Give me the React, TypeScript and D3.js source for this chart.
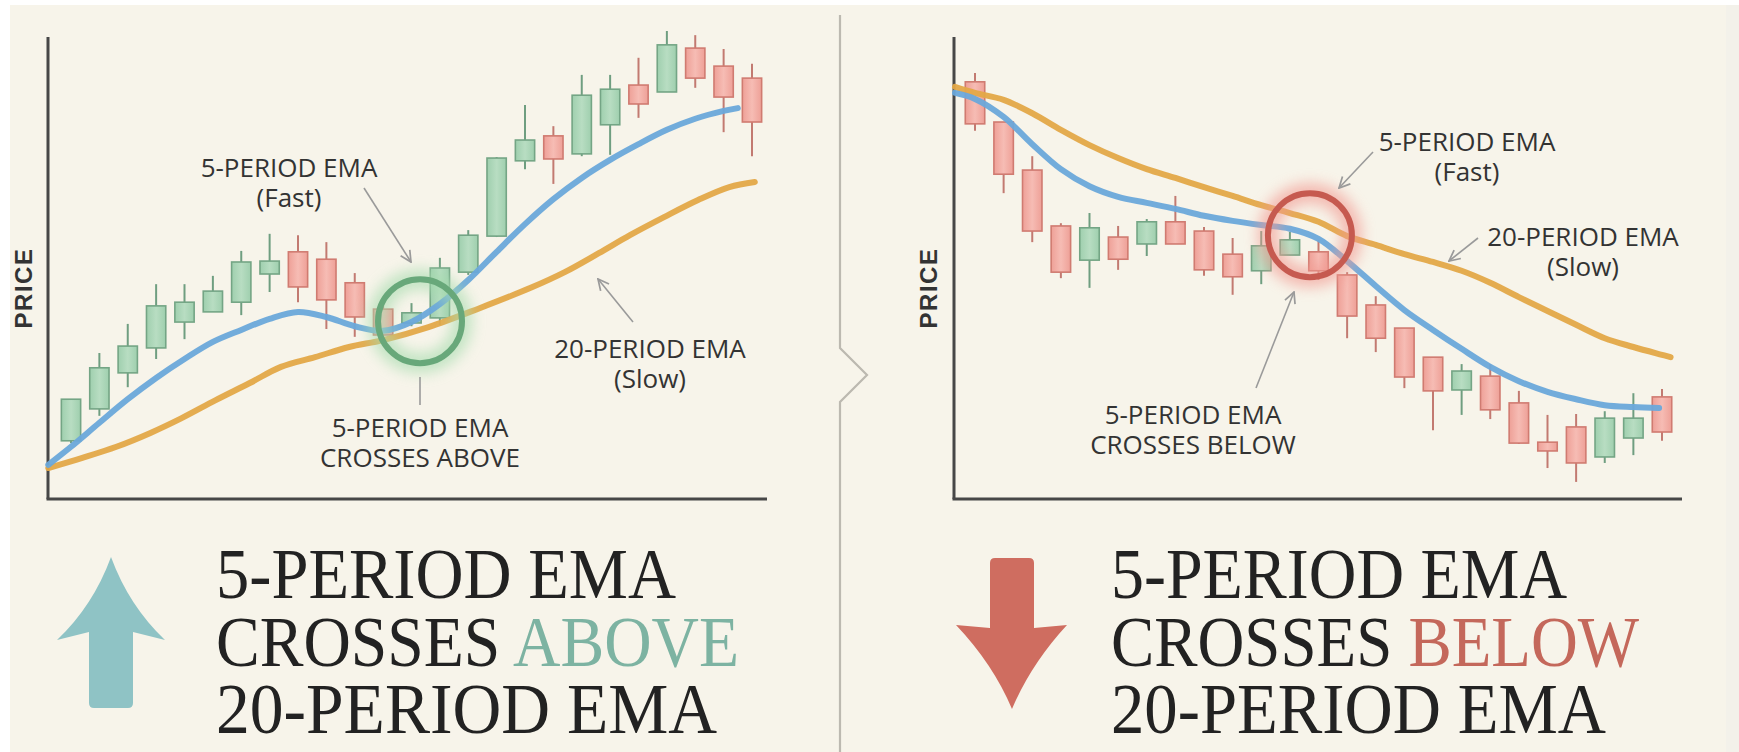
import * as d3 from "d3";
import { useEffect, useRef } from "react";

const W = 1739;
const H = 752;

// candles: [open, high, low, close] in price units (0..100 on the axis)
const upCandles: number[][] = [
  [12.6, 21.6, 12.1, 21.6],
  [19.5, 31.6, 18.0, 28.4],
  [27.3, 37.9, 24.2, 33.1],
  [32.7, 46.5, 30.3, 41.8],
  [38.3, 46.5, 34.6, 42.6],
  [40.5, 48.3, 40.5, 45.0],
  [42.6, 53.7, 39.8, 51.3],
  [48.7, 57.4, 44.8, 51.5],
  [53.5, 57.1, 42.6, 45.9],
  [51.9, 55.6, 36.8, 43.1],
  [46.8, 48.9, 35.1, 39.4],
  [41.1, 42.0, 34.8, 35.5],
  [38.1, 42.4, 37.4, 40.3],
  [39.2, 52.2, 37.7, 50.0],
  [49.1, 58.2, 48.5, 57.1],
  [56.9, 74.0, 56.7, 73.8],
  [73.2, 85.3, 71.4, 77.7],
  [78.6, 80.7, 68.2, 73.6],
  [74.7, 91.8, 74.2, 87.4],
  [81.0, 91.8, 74.5, 88.7],
  [89.6, 95.5, 82.5, 85.5],
  [88.1, 101.3, 88.1, 98.3],
  [97.6, 100.4, 89.0, 91.1],
  [93.7, 97.4, 79.4, 87.0],
  [91.1, 94.2, 74.2, 81.6],
];

const downCandles: number[][] = [
  [90.3, 92.2, 79.7, 81.2],
  [81.6, 81.6, 66.2, 70.3],
  [71.2, 74.2, 55.6, 58.0],
  [59.1, 59.7, 47.8, 49.1],
  [51.7, 61.9, 45.7, 58.7],
  [56.7, 59.1, 49.6, 51.9],
  [55.2, 60.6, 52.6, 60.0],
  [60.0, 65.6, 55.2, 55.2],
  [58.0, 58.9, 48.3, 49.6],
  [53.0, 56.5, 44.2, 48.1],
  [49.4, 58.0, 46.5, 54.8],
  [52.8, 57.8, 52.8, 56.1],
  [53.5, 56.1, 47.4, 49.4],
  [48.5, 49.1, 34.8, 39.6],
  [42.0, 43.9, 31.8, 34.8],
  [37.0, 37.0, 24.0, 26.4],
  [30.7, 30.7, 14.9, 23.4],
  [23.6, 29.2, 18.2, 27.7],
  [26.6, 29.2, 17.3, 19.3],
  [20.8, 23.4, 11.9, 12.1],
  [12.3, 18.2, 6.7, 10.4],
  [15.6, 18.4, 3.7, 7.8],
  [9.1, 19.0, 7.8, 17.5],
  [13.2, 22.9, 9.5, 17.5],
  [22.1, 23.8, 12.6, 14.5],
];

// EMA lines: [candle index, price]
const upFast: number[][] = [
  [-0.8, 7.4], [0, 11.3], [1, 16.5], [2, 21.6], [3, 26.2], [4, 30.3], [5, 34.0],
  [6, 36.6], [7, 39.0], [8, 40.5], [9, 39.4], [10, 37.4], [11, 36.4], [12, 38.3],
  [13, 42.2], [14, 47.4], [15, 53.5], [16, 59.5], [17, 64.9], [18, 69.5], [19, 73.4],
  [20, 76.8], [21, 79.9], [22, 82.3], [23, 84.0], [23.5, 84.6],
];
const upSlow: number[][] = [
  [-0.8, 6.7], [0.4, 8.9], [1.6, 11.3], [2.8, 14.3], [3.9, 17.5], [5.1, 21.4],
  [6.3, 25.1], [7.4, 28.6], [8.6, 30.7], [9.8, 32.9], [11, 34.4], [12.6, 37.2],
  [14.4, 41.3], [16.2, 45.7], [17.4, 49.1], [18.6, 53.2], [19.7, 57.1], [20.9, 61.0],
  [22.1, 64.7], [23.2, 67.5], [24.1, 68.6],
];
const downFast: number[][] = [
  [-0.7, 87.9], [0, 86.6], [1, 82.7], [2, 76.8], [3, 71.4], [4, 67.7], [5, 65.4],
  [6, 64.1], [7, 62.8], [8, 61.3], [9, 60.2], [10, 59.3], [11, 58.5], [12, 56.3],
  [13, 51.5], [14, 46.1], [15, 40.9], [16, 36.6], [17, 32.5], [18, 28.6], [19, 25.5],
  [20, 23.2], [21, 21.6], [22, 20.3], [23, 19.9], [23.9, 19.7],
];
const downSlow: number[][] = [
  [-0.7, 89.2], [0, 87.9], [1, 86.4], [2, 83.5], [3, 79.9], [4, 76.6], [5, 73.8],
  [6, 71.4], [7, 69.5], [8, 67.5], [9, 65.6], [10, 63.6], [11, 61.9], [12, 60.0],
  [13, 56.9], [14, 55.0], [15, 53.0], [16, 51.3], [17, 49.4], [18, 46.8], [19, 43.7],
  [20, 40.7], [21, 37.7], [22, 34.8], [23, 32.9], [24, 31.2], [24.3, 30.7],
];

// crossover markers [candle index, price]
const upCross = [12.3, 38.5];
const downCross = [11.7, 57.1];

const panels = [
  {
    candles: upCandles, fast: upFast, slow: upSlow, cross: upCross,
    axisX: 48, axisEnd: 767, first: 71, last: 752, priceX: 23.5,
    ring: "#68a87a", glow: "#a6dcae",
    labels: [
      { x: 289, y: 177, lines: ["5-PERIOD EMA", "(Fast)"] },
      { x: 650, y: 358, lines: ["20-PERIOD EMA", "(Slow)"] },
      { x: 420, y: 437, lines: ["5-PERIOD EMA", "CROSSES ABOVE"] },
    ],
    arrows: [
      [364, 188, 411, 262],
      [633, 322, 598, 279],
    ],
    ticks: [[420, 377, 420, 405]],
  },
  {
    candles: downCandles, fast: downFast, slow: downSlow, cross: downCross,
    axisX: 954, axisEnd: 1682, first: 975, last: 1662, priceX: 928,
    ring: "#c65a50", glow: "#f29a92",
    labels: [
      { x: 1467, y: 151, lines: ["5-PERIOD EMA", "(Fast)"] },
      { x: 1583, y: 246, lines: ["20-PERIOD EMA", "(Slow)"] },
      { x: 1193, y: 424, lines: ["5-PERIOD EMA", "CROSSES BELOW"] },
    ],
    arrows: [
      [1373, 152, 1339, 188],
      [1478, 238, 1449, 261],
      [1256, 388, 1294, 292],
    ],
    ticks: [],
  },
];

const headlines = [
  { x: 216, color: "#7db3a2", word: "ABOVE", widths: [460, 523, 501] },
  { x: 1111, color: "#c4685b", word: "BELOW", widths: [456, 528, 495] },
];
const baselines = [598, 666, 733];

export default function App() {
  const ref = useRef<SVGSVGElement>(null);

  useEffect(() => {
    if (!ref.current) return;
    const svg = d3.select(ref.current);
    svg.selectAll("*").remove();
    svg.attr("viewBox", `0 0 ${W} ${H}`);

    const defs = svg.append("defs");
    defs.append("filter").attr("id", "glow").attr("x", "-50%").attr("y", "-50%").attr("width", "200%").attr("height", "200%")
      .append("feGaussianBlur").attr("stdDeviation", 7);
    defs.append("marker").attr("id", "head").attr("viewBox", "0 0 12 12").attr("refX", 11).attr("refY", 6)
      .attr("markerWidth", 13).attr("markerHeight", 13).attr("markerUnits", "userSpaceOnUse").attr("orient", "auto")
      .append("path").attr("d", "M1,1 L11,6 L1,11").attr("fill", "none").attr("stroke", "#9a9a9a").attr("stroke-width", 1.6);
    const grad = (id: string, edge: string, mid: string) => {
      const g = defs.append("linearGradient").attr("id", id);
      g.append("stop").attr("offset", "0%").attr("stop-color", edge);
      g.append("stop").attr("offset", "50%").attr("stop-color", mid);
      g.append("stop").attr("offset", "100%").attr("stop-color", edge);
    };
    grad("gUp", "#9fcfae", "#b8ddc2");
    grad("gDn", "#eea097", "#f6bcb4");

    // paper
    svg.append("rect").attr("width", W).attr("height", H).attr("fill", "#ffffff");
    svg.append("rect").attr("x", 10).attr("y", 5).attr("width", 1716).attr("height", H - 5).attr("fill", "#f7f4ea");
    svg.append("rect").attr("x", 1726).attr("y", 5).attr("width", 13).attr("height", H - 5).attr("fill", "#f3f1ea");

    // divider with notch
    svg.append("path").attr("d", "M840,15 L840,348 L867,375 L840,402 L840,752")
      .attr("fill", "none").attr("stroke", "#bcb9b0").attr("stroke-width", 2.2);

    const y = d3.scaleLinear().domain([0, 100]).range([499, 37]);

    panels.forEach((p) => {
      const x = d3.scaleLinear().domain([0, 24]).range([p.first, p.last]);
      const bw = (x(1) - x(0)) * 0.68;
      const g = svg.append("g");

      // axes
      g.append("line").attr("x1", p.axisX).attr("x2", p.axisX).attr("y1", y.range()[1]).attr("y2", y.range()[0])
        .attr("stroke", "#474747").attr("stroke-width", 3);
      g.append("line").attr("x1", p.axisX - 1.5).attr("x2", p.axisEnd).attr("y1", y.range()[0]).attr("y2", y.range()[0])
        .attr("stroke", "#474747").attr("stroke-width", 3);
      g.append("text").attr("transform", `translate(${p.priceX},288) rotate(-90)`).attr("text-anchor", "middle")
        .attr("dy", "0.36em").attr("font-family", "Liberation Sans, Arial, sans-serif").attr("font-weight", 700)
        .attr("font-size", 24).attr("letter-spacing", 1.5).attr("fill", "#333").text("PRICE");

      // candles
      const c = g.selectAll("g.candle").data(p.candles).join("g").attr("class", "candle");
      c.append("line")
        .attr("x1", (_, i) => x(i)).attr("x2", (_, i) => x(i))
        .attr("y1", (d) => y(d[1])).attr("y2", (d) => y(d[2]))
        .attr("stroke", (d) => (d[3] >= d[0] ? "#6f9e80" : "#c27a71")).attr("stroke-width", 2);
      c.append("rect")
        .attr("x", (_, i) => x(i) - bw / 2).attr("width", bw)
        .attr("y", (d) => y(Math.max(d[0], d[3])))
        .attr("height", (d) => Math.max(2, Math.abs(y(d[0]) - y(d[3]))))
        .attr("fill", (d) => (d[3] >= d[0] ? "url(#gUp)" : "url(#gDn)"))
        .attr("stroke", (d) => (d[3] >= d[0] ? "#74a585" : "#d07b71")).attr("stroke-width", 1.6);

      // EMAs
      const line = d3.line<number[]>().x((d) => x(d[0])).y((d) => y(d[1])).curve(d3.curveCatmullRom.alpha(0.5));
      g.append("path").attr("d", line(p.slow)).attr("fill", "none").attr("stroke", "#e3a848")
        .attr("stroke-width", 6).attr("stroke-linecap", "round").attr("opacity", 0.95);
      g.append("path").attr("d", line(p.fast)).attr("fill", "none").attr("stroke", "#6aa8da")
        .attr("stroke-width", 6).attr("stroke-linecap", "round").attr("opacity", 0.95);

      // crossover ring
      const cx = x(p.cross[0]);
      const cy = y(p.cross[1]);
      g.append("circle").attr("cx", cx).attr("cy", cy).attr("r", 42).attr("fill", "none")
        .attr("stroke", p.glow).attr("stroke-width", 20).attr("opacity", 0.65).attr("filter", "url(#glow)");
      g.append("circle").attr("cx", cx).attr("cy", cy).attr("r", 42).attr("fill", "none")
        .attr("stroke", p.ring).attr("stroke-width", 6);

      // annotations
      p.arrows.forEach((a) => {
        g.append("line").attr("x1", a[0]).attr("y1", a[1]).attr("x2", a[2]).attr("y2", a[3])
          .attr("stroke", "#9a9a9a").attr("stroke-width", 1.6).attr("marker-end", "url(#head)");
      });
      p.ticks.forEach((a) => {
        g.append("line").attr("x1", a[0]).attr("y1", a[1]).attr("x2", a[2]).attr("y2", a[3])
          .attr("stroke", "#9a9a9a").attr("stroke-width", 1.6);
      });
      p.labels.forEach((l) => {
        l.lines.forEach((s, i) => {
          g.append("text").attr("x", l.x).attr("y", l.y + i * 30).attr("text-anchor", "middle")
            .attr("font-family", "Open Sans, sans-serif").attr("font-size", 26).attr("fill", "#333").text(s);
        });
      });
    });

    // bottom arrows
    svg.append("path")
      .attr("d", "M111,557 Q93,606 57,640 L89,632 L89,703 Q89,708 94,708 L128,708 Q133,708 133,703 L133,632 L165,640 Q129,606 111,557 Z")
      .attr("fill", "#8fc3c5");
    svg.append("path")
      .attr("d", "M995,558 L1029,558 Q1034,558 1034,563 L1034,628 L1067,625 Q1031,664 1012,709 Q993,664 956,625 L990,628 L990,563 Q990,558 995,558 Z")
      .attr("fill", "#cf6d60");

    // headline text
    headlines.forEach((h) => {
      const rows = ["5-PERIOD EMA", null, "20-PERIOD EMA"];
      rows.forEach((r, i) => {
        const t = svg.append("text").attr("x", h.x).attr("y", baselines[i])
          .attr("font-family", "Liberation Serif, Times New Roman, serif").attr("font-size", 72).attr("fill", "#222")
          .attr("textLength", h.widths[i]).attr("lengthAdjust", "spacingAndGlyphs");
        if (r) t.text(r);
        else {
          t.append("tspan").text("CROSSES ");
          t.append("tspan").attr("fill", h.color).text(h.word);
        }
      });
    });
  }, []);

  return <svg ref={ref} width={W} height={H} style={{ position: "absolute", left: 0, top: 0, display: "block" }} />;
}
